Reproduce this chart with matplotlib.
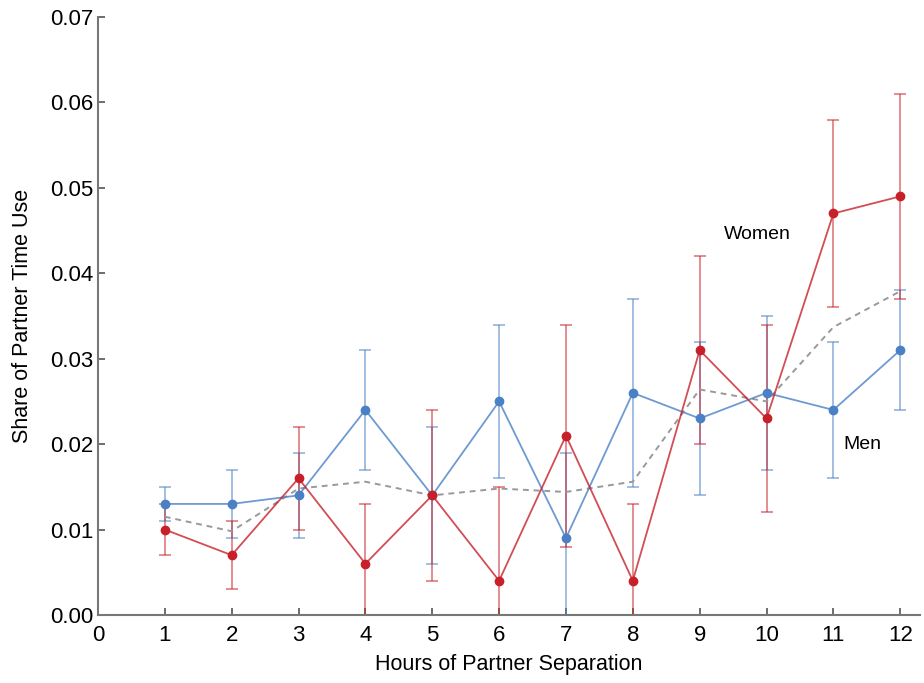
import numpy as np
import matplotlib.pyplot as plt

# data
hours = [1, 2, 3, 4, 5, 6, 7, 8, 9, 10, 11, 12]

men = [0.013, 0.013, 0.014, 0.024, 0.014, 0.025, 0.009, 0.026, 0.023, 0.026, 0.024, 0.031]
men_lo = [0.011, 0.009, 0.009, 0.017, 0.006, 0.016, -0.001, 0.015, 0.014, 0.017, 0.016, 0.024]
men_hi = [0.015, 0.017, 0.019, 0.031, 0.022, 0.034, 0.019, 0.037, 0.032, 0.035, 0.032, 0.038]

women = [0.010, 0.007, 0.016, 0.006, 0.014, 0.004, 0.021, 0.004, 0.031, 0.023, 0.047, 0.049]
women_lo = [0.007, 0.003, 0.010, -0.001, 0.004, -0.007, 0.008, -0.005, 0.020, 0.012, 0.036, 0.037]
women_hi = [0.013, 0.011, 0.022, 0.013, 0.024, 0.015, 0.034, 0.013, 0.042, 0.034, 0.058, 0.061]

overall = [0.0115, 0.0098, 0.0148, 0.0156, 0.0140, 0.0148, 0.0144, 0.0156, 0.0264, 0.0250, 0.0337, 0.0379]

yticks = [0.00, 0.01, 0.02, 0.03, 0.04, 0.05, 0.06, 0.07]
xticks = list(range(0, 13))

red = '#c8202a'
blue = '#4a80c6'
ftsize = 16

plt.rcParams['font.family'] = ['Liberation Sans', 'DejaVu Sans']

fig = plt.figure(figsize=(9.24, 6.83), dpi=100)
ax = fig.add_axes([0.106, 0.0996, 0.89, 0.8755])

x = np.array(hours)

def draw(vals, lo, hi, col):
    vals = np.array(vals); lo = np.array(lo); hi = np.array(hi)
    ax.errorbar(x, vals, yerr=[vals - lo, hi - vals], fmt='none', ecolor=col,
                alpha=0.6, elinewidth=1.2, capsize=4, capthick=1.2, zorder=2)
    ax.plot(x, vals, '-', color=col, lw=1.3, alpha=0.8, zorder=3)
    ax.plot(x, vals, 'o', color=col, ms=6, zorder=4)

# dashed overall average
ax.plot(x, overall, '--', color='#999999', lw=1.4, dashes=(3, 2.5), zorder=2.5)
draw(men, men_lo, men_hi, blue)
draw(women, women_lo, women_hi, red)

ax.text(9.87, 0.0445, 'Women', fontsize=14, ha='center', va='center')
ax.text(11.44, 0.0199, 'Men', fontsize=14, ha='center', va='center')

ax.set_xlim(0, 12.3)
ax.set_ylim(0, 0.07)
ax.set_xticks(xticks)
ax.set_yticks(yticks)
ax.set_yticklabels(['%.2f' % t for t in yticks])
ax.tick_params(direction='in', labelsize=ftsize, color='#555555', length=5, width=1.2)
ax.tick_params(axis='x', pad=7)

for s in ['top', 'right']:
    ax.spines[s].set_visible(False)
for s in ['left', 'bottom']:
    ax.spines[s].set_color('#777777')
    ax.spines[s].set_linewidth(1.5)

ax.set_xlabel('Hours of Partner Separation', fontsize=15.5, labelpad=6)
ax.set_ylabel('Share of Partner Time Use', fontsize=15.5, labelpad=12)

plt.savefig('out.png')
